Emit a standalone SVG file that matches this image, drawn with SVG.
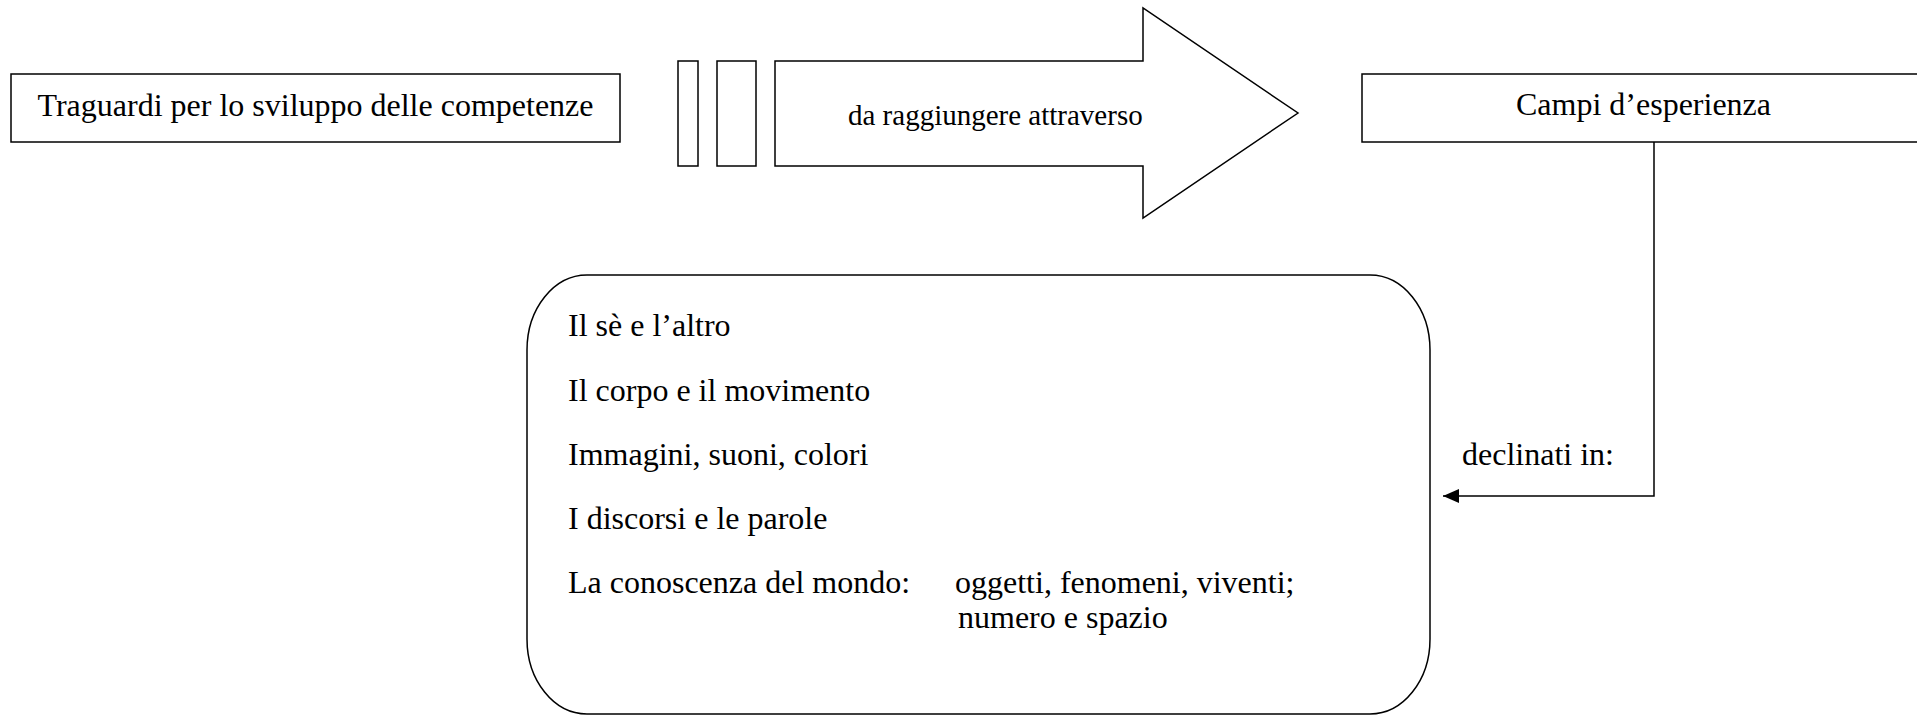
<svg xmlns="http://www.w3.org/2000/svg" width="1917" height="716" viewBox="0 0 1917 716">
  <style>
    .box { fill: #ffffff; stroke: #000000; stroke-width: 1.5; }
    .line { fill: none; stroke: #000000; stroke-width: 1.5; }
    .t { font-family: "Liberation Serif", "Times New Roman", serif; font-size: 32px; fill: #000000; }
    .ts { font-family: "Liberation Serif", "Times New Roman", serif; font-size: 29px; fill: #000000; }
  </style>
  <defs>
    <marker id="arrow" viewBox="0 0 16 14" refX="16" refY="7" markerWidth="16" markerHeight="14" markerUnits="userSpaceOnUse" orient="auto">
      <path d="M0,0 L16,7 L0,14 z" fill="#000000"/>
    </marker>
  </defs>
  <rect width="1917" height="716" fill="#ffffff"/>

  <g id="traguardi">
    <rect class="box" x="11" y="74" width="609" height="68"/>
    <text class="t" x="315.5" y="116" text-anchor="middle">Traguardi per lo sviluppo delle competenze</text>
  </g>

  <g id="freccia">
    <rect class="box" x="678" y="61" width="20" height="105"/>
    <rect class="box" x="717" y="61" width="39" height="105"/>
    <polygon class="box" points="775,61 1143,61 1143,8 1298,113 1143,218 1143,166 775,166"/>
    <text class="ts" x="848" y="125">da raggiungere attraverso</text>
  </g>

  <g id="campi">
    <rect class="box" x="1362" y="74" width="600" height="68"/>
    <text class="t" x="1643.5" y="115" text-anchor="middle">Campi d’esperienza</text>
  </g>

  <g id="connettori">
    <path class="line" d="M1654,142 V496 H1443" marker-end="url(#arrow)"/>
    <text class="t" x="1462" y="465">declinati in:</text>
  </g>

  <g id="elenco">
    <rect class="box" x="527" y="275" width="903" height="439" rx="60" ry="75"/>
    <text class="t" x="568" y="336">Il sè e l’altro</text>
    <text class="t" x="568" y="401">Il corpo e il movimento</text>
    <text class="t" x="568" y="465">Immagini, suoni, colori</text>
    <text class="t" x="568" y="529">I discorsi e le parole</text>
    <text class="t" x="568" y="593">La conoscenza del mondo:</text>
    <text class="t" x="955" y="593">oggetti, fenomeni, viventi;</text>
    <text class="t" x="958" y="628">numero e spazio</text>
  </g>
</svg>
